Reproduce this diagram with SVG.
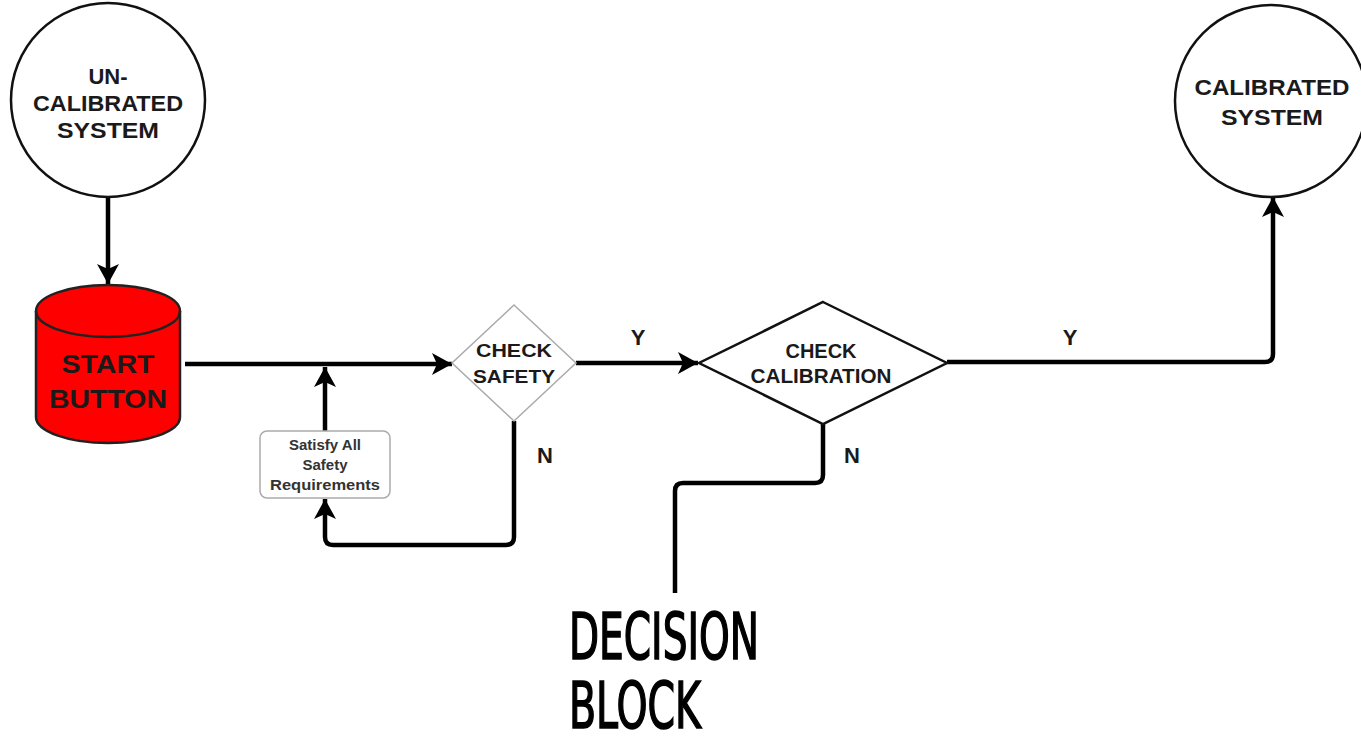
<svg xmlns="http://www.w3.org/2000/svg" width="1361" height="742" viewBox="0 0 1361 742">
<defs>
<style>
.lbl{font-family:"Liberation Sans",Arial,sans-serif;font-weight:bold;fill:#1a1a1a;text-anchor:middle}
.conn{fill:none;stroke:#000;stroke-width:4.5;stroke-linejoin:round}
.big{font-family:"Liberation Sans Narrow","DejaVu Sans Condensed",sans-serif;fill:#000;stroke:#000;stroke-width:1.6;font-size:64px}
</style>
<marker id="ah" markerUnits="userSpaceOnUse" markerWidth="24" markerHeight="26" viewBox="-2 -13 24 26" refX="20" refY="0" orient="auto">
<path d="M0,-11 L20,0 L0,11 L5,0 Z" fill="#000"/>
</marker>
</defs>
<rect width="1361" height="742" fill="#fff"/>
<g id="connectors">
<path class="conn" d="M108,197 V284" marker-end="url(#ah)"/>
<path class="conn" d="M185,364 H452" marker-end="url(#ah)"/>
<path class="conn" d="M325,431 V367" marker-end="url(#ah)"/>
<path class="conn" d="M514,421 V537 Q514,545 506,545 H333 Q325,545 325,537 V499" marker-end="url(#ah)"/>
<path class="conn" d="M576,363 H698" marker-end="url(#ah)"/>
<path class="conn" d="M823,424 V475 Q823,483 815,483 H683 Q675,483 675,491 V593"/>
<path class="conn" d="M947,362 H1265 Q1273,362 1273,354 V197" marker-end="url(#ah)"/>
<text class="lbl" x="638" y="345" font-size="22">Y</text>
<text class="lbl" x="1070" y="345" font-size="22">Y</text>
<text class="lbl" x="545" y="463" font-size="22">N</text>
<text class="lbl" x="852" y="463" font-size="22">N</text>
</g>
<g id="uncalibrated">
<circle cx="108" cy="100" r="97" fill="#fff" stroke="#111" stroke-width="2.5"/>
<text class="lbl" x="108" y="84" font-size="22">UN-</text>
<text class="lbl" x="108" y="111" font-size="22" textLength="150" lengthAdjust="spacingAndGlyphs">CALIBRATED</text>
<text class="lbl" x="108" y="138" font-size="22" textLength="102" lengthAdjust="spacingAndGlyphs">SYSTEM</text>
</g>
<g id="start">
<path d="M36,311 L36,417 A72,26 0 0 0 180,417 L180,311 A72,26 0 0 0 36,311 Z" fill="#f00" stroke="#222" stroke-width="2.5"/>
<path d="M36,311 A72,26 0 0 0 180,311" fill="none" stroke="#222" stroke-width="2.5"/>
<text class="lbl" x="108" y="373" font-size="26" textLength="93" lengthAdjust="spacingAndGlyphs">START</text>
<text class="lbl" x="108" y="408" font-size="26" textLength="118" lengthAdjust="spacingAndGlyphs">BUTTON</text>
</g>
<g id="satisfy">
<rect x="260" y="431" width="130" height="67" rx="7" fill="#fff" stroke="#aaa" stroke-width="1.5"/>
<text class="lbl" x="325" y="450" font-size="15" style="fill:#333">Satisfy All</text>
<text class="lbl" x="325" y="470" font-size="15" style="fill:#333">Safety</text>
<text class="lbl" x="325" y="490" font-size="15" style="fill:#333" textLength="110" lengthAdjust="spacingAndGlyphs">Requirements</text>
</g>
<g id="check-safety">
<polygon points="514,305 576,363 514,421 452,363" fill="#fff" stroke="#aaa" stroke-width="1.5"/>
<text class="lbl" x="514" y="357" font-size="19" textLength="76" lengthAdjust="spacingAndGlyphs">CHECK</text>
<text class="lbl" x="514" y="383" font-size="19" textLength="82" lengthAdjust="spacingAndGlyphs">SAFETY</text>
</g>
<g id="check-calibration">
<polygon points="823,302 947,363 823,424 699,363" fill="#fff" stroke="#111" stroke-width="2.5"/>
<text class="lbl" x="821" y="358" font-size="20">CHECK</text>
<text class="lbl" x="821" y="383" font-size="20" textLength="141" lengthAdjust="spacingAndGlyphs">CALIBRATION</text>
</g>
<g id="calibrated">
<circle cx="1271" cy="101" r="96" fill="#fff" stroke="#111" stroke-width="2.5"/>
<text class="lbl" x="1272" y="95" font-size="22" textLength="155" lengthAdjust="spacingAndGlyphs">CALIBRATED</text>
<text class="lbl" x="1272" y="125" font-size="22" textLength="102" lengthAdjust="spacingAndGlyphs">SYSTEM</text>
</g>
<g id="decision-block">
<text class="big" x="569" y="659" textLength="190" lengthAdjust="spacingAndGlyphs">DECISION</text>
<text class="big" x="569" y="728" textLength="132" lengthAdjust="spacingAndGlyphs">BLOCK</text>
</g>
</svg>
